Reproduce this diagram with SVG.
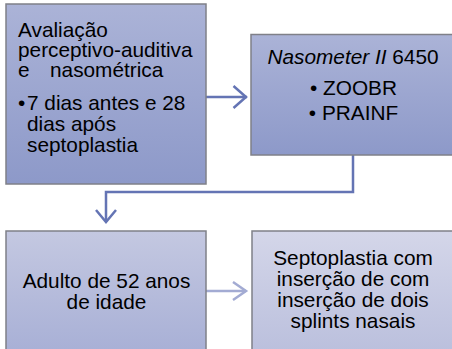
<svg xmlns="http://www.w3.org/2000/svg" width="452" height="349" viewBox="0 0 452 349">
<defs>
<linearGradient id="g1" x1="0" y1="0" x2="0" y2="1"><stop offset="0" stop-color="#abb3d7"/><stop offset="1" stop-color="#8d99c9"/></linearGradient>
<linearGradient id="g3" x1="0" y1="0" x2="0" y2="1"><stop offset="0" stop-color="#c4c8e1"/><stop offset="1" stop-color="#a6aed5"/></linearGradient>
<linearGradient id="g4" x1="0" y1="0" x2="0" y2="1"><stop offset="0" stop-color="#d4d6e9"/><stop offset="1" stop-color="#b9bedc"/></linearGradient>
</defs>
<style>
.box{stroke:#7f8088;stroke-width:1.5}
text{font-family:"Liberation Sans",Arial,sans-serif;font-size:20.8px;fill:#000}
.c{text-anchor:middle}
.con{fill:none;stroke:#6474b4;stroke-width:2.5}
.con2{fill:none;stroke:#a3abd3;stroke-width:2.5}
</style>
<rect width="452" height="349" fill="#fff"/>
<g id="connectors">
<path class="con" d="M206,97 H247"/>
<path class="con" d="M233.5,86 L246,97 L233.5,108"/>
<path class="con" d="M353,155 V192 H106 V222"/>
<path class="con" d="M96,210 L106,222 L116,210"/>
<path class="con2" d="M206,291 H246"/>
<path class="con2" d="M233,282 L246,291 L233,300"/>
</g>
<g id="n1">
<rect class="box" x="6" y="4" width="200" height="180" fill="url(#g1)"/>
<text x="18" y="37">Avaliação</text>
<text x="18" y="57">perceptivo-auditiva</text>
<text y="77"><tspan x="18">e</tspan><tspan x="50">nasométrica</tspan></text>
<text x="18" y="110">•</text>
<text x="27" y="110">7 dias antes e 28</text>
<text x="27" y="131">dias após</text>
<text x="27" y="152">septoplastia</text>
</g>
<g id="n2">
<rect class="box" x="251" y="34.5" width="206" height="120.5" fill="url(#g1)"/>
<text class="c" x="353" y="64"><tspan font-style="italic">Nasometer II</tspan> 6450</text>
<text class="c" x="353.5" y="95">• ZOOBR</text>
<text class="c" x="353.5" y="120">• PRAINF</text>
</g>
<g id="n3">
<rect class="box" x="6" y="231" width="200" height="130" fill="url(#g3)"/>
<text class="c" x="106.5" y="288">Adulto de 52 anos</text>
<text class="c" x="106.5" y="309">de idade</text>
</g>
<g id="n4">
<rect class="box" x="252" y="231" width="206" height="130" fill="url(#g4)"/>
<text class="c" x="353" y="265">Septoplastia com</text>
<text class="c" x="353" y="286">inserção de com</text>
<text class="c" x="353" y="307">inserção de dois</text>
<text class="c" x="353" y="328">splints nasais</text>
</g>
</svg>
